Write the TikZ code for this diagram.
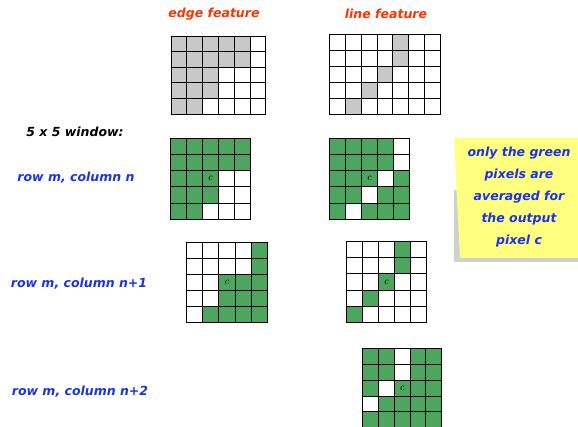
\documentclass[tikz,border=0pt]{standalone}
\usepackage{fontspec}
\newfontfamily\labelfont{DejaVu Sans}
\usetikzlibrary{positioning}
\definecolor{featurered}{RGB}{255,51,0}
\definecolor{rowblue}{RGB}{26,51,230}
\definecolor{pixgreen}{RGB}{77,166,94}
\definecolor{pixgrey}{RGB}{200,200,200}
\definecolor{noteyellow}{RGB}{255,255,128}
\definecolor{noteshadow}{RGB}{208,208,208}
\tikzset{
  gridline/.style={line width=0.9pt, black, line cap=rect},
  greencell/.style={fill=pixgreen},
  greycell/.style={fill=pixgrey},
  centerpix/.style={inner sep=0pt, font=\fontsize{10}{10}\selectfont},
  featurelabel/.style={text=featurered, font=\labelfont\bfseries\itshape\fontsize{12.5}{15}\selectfont},
  rowlabel/.style={text=rowblue, font=\labelfont\bfseries\itshape\fontsize{12.5}{14}\selectfont},
  notetext/.style={text=rowblue, align=center, font=\labelfont\bfseries\itshape\fontsize{12.5}{22}\selectfont}
}
\newcommand{\pixlines}[2]{%
  \foreach \i in {0,...,#1} \draw[gridline] (\i,0) -- (\i,#2);
  \foreach \j in {0,...,#2} \draw[gridline] (0,\j) -- (#1,\j);}
\begin{document}
\begin{tikzpicture}[x=1pt, y=-1pt]
\useasboundingbox (0,0) rectangle (578,427);
\clip (0,0) rectangle (578,427);
% feature templates
\node[featurelabel] (edgelabel) at (214,14) {edge feature};
\node[featurelabel] (linelabel) at (386,14) {line feature};
\begin{scope}[shift={(171,36)}, x=15.8pt, y=-15.6pt]
\foreach \c/\r in {1/1,2/1,3/1,4/1,5/1,1/2,2/2,3/2,4/2,5/2,1/3,2/3,3/3,1/4,2/4,3/4,1/5,2/5}
  \fill[greycell] (\c-1,\r-1) rectangle (\c,\r);
\pixlines{6}{5}
\end{scope}
\begin{scope}[shift={(329.3,34.3)}, x=15.9pt, y=-16pt]
\foreach \c/\r in {5/1,5/2,4/3,3/4,2/5}
  \fill[greycell] (\c-1,\r-1) rectangle (\c,\r);
\pixlines{7}{5}
\end{scope}
% window labels
\node[font=\labelfont\bfseries\itshape\fontsize{12.5}{14}\selectfont] (winlabel) at (75,132) {5 x 5 window:};
\node[rowlabel] (rown) at (76,178) {row m, column n};
\node[rowlabel] (rown1) at (79,284) {row m, column n+1};
\node[rowlabel] (rown2) at (80,392) {row m, column n+2};
% row m, column n
\begin{scope}[shift={(170.7,138.3)}, x=15.9pt, y=-16.2pt]
\foreach \c/\r in {1/1,2/1,3/1,4/1,5/1,1/2,2/2,3/2,4/2,5/2,1/3,2/3,3/3,1/4,2/4,3/4,1/5,2/5}
  \fill[greencell] (\c-1,\r-1) rectangle (\c,\r);
\pixlines{5}{5}
\node[centerpix] (cedge0) at (2.5,2.5) {$c$};
\end{scope}
\begin{scope}[shift={(329.3,138.3)}, x=16.1pt, y=-16.2pt]
\foreach \c/\r in {1/1,2/1,3/1,4/1,1/2,2/2,3/2,4/2,1/3,2/3,3/3,5/3,1/4,2/4,4/4,5/4,1/5,3/5,4/5,5/5}
  \fill[greencell] (\c-1,\r-1) rectangle (\c,\r);
\pixlines{5}{5}
\node[centerpix] (cline0) at (2.5,2.5) {$c$};
\end{scope}
% row m, column n+1
\begin{scope}[shift={(186.7,242.3)}, x=16.1pt, y=-16pt]
\foreach \c/\r in {5/1,5/2,3/3,4/3,5/3,3/4,4/4,5/4,2/5,3/5,4/5,5/5}
  \fill[greencell] (\c-1,\r-1) rectangle (\c,\r);
\pixlines{5}{5}
\node[centerpix] (cedge1) at (2.5,2.5) {$c$};
\end{scope}
\begin{scope}[shift={(346.7,241.7)}, x=15.9pt, y=-16.1pt]
\foreach \c/\r in {4/1,4/2,3/3,2/4,1/5}
  \fill[greencell] (\c-1,\r-1) rectangle (\c,\r);
\pixlines{5}{5}
\node[centerpix] (cline1) at (2.5,2.5) {$c$};
\end{scope}
% row m, column n+2
\begin{scope}[shift={(362.7,348.3)}, x=15.8pt, y=-15.9pt]
\foreach \c/\r in {1/1,2/1,4/1,5/1,1/2,2/2,4/2,5/2,1/3,3/3,4/3,5/3,2/4,3/4,4/4,5/4,1/5,2/5,3/5,4/5,5/5}
  \fill[greencell] (\c-1,\r-1) rectangle (\c,\r);
\pixlines{5}{5}
\node[centerpix] (cline2) at (2.5,2.5) {$c$};
\end{scope}
% sticky note
\fill[noteshadow] (454,190) rectangle (578,262);
\fill[noteyellow] (454,138) -- (578,138) -- (578,258) -- (460,258) -- cycle;
\node[notetext] (note) at (519,197) {only the green\\pixels are\\averaged for\\the output\\pixel c};
\end{tikzpicture}
\end{document}
